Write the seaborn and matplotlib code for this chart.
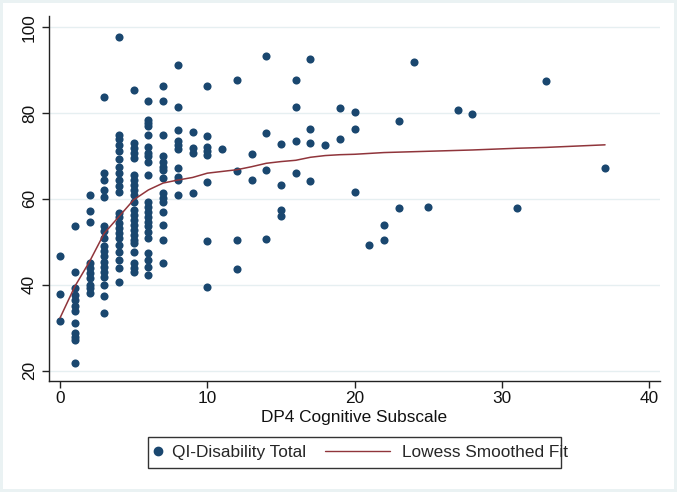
import numpy as np
import pandas as pd
import matplotlib
matplotlib.use("Agg")
import matplotlib.pyplot as plt
import seaborn as sns
from matplotlib.lines import Line2D
from matplotlib.patches import Rectangle

# DP4 cognitive subscale scores (x) and the QI-Disability totals observed at each score
dp4_levels = [0, 1, 2, 3, 4, 5, 6, 7, 8, 9, 10, 11, 12, 13, 14, 15, 16, 17,
              18, 19, 20, 21, 22, 23, 24, 25, 27, 28, 31, 33, 37]
qi_values = [
    [46.7, 37.8, 31.6],
    [53.8, 43.1, 39.2, 37.7, 36.5, 35.1, 33.8, 31.0, 28.7, 27.9, 27.1, 21.8],
    [60.9, 57.3, 54.7, 45.0, 43.8, 42.7, 41.5, 40.0, 39.2, 38.0],
    [83.8, 66.0, 64.4, 62.0, 60.5, 53.8, 52.6, 50.8, 49.0, 47.8, 46.6, 45.4,
     44.2, 43.0, 41.8, 40.0, 37.4, 33.5],
    [97.6, 75.0, 74.0, 72.6, 71.2, 69.2, 67.5, 66.0, 64.5, 63.0, 61.7, 56.7,
     55.7, 54.5, 53.3, 52.0, 50.8, 49.3, 47.7, 45.8, 43.8, 40.7],
    [85.4, 73.0, 71.8, 70.6, 69.5, 65.6, 64.4, 63.3, 62.1, 60.9, 59.4, 57.4,
     56.3, 55.1, 53.9, 52.8, 51.6, 50.4, 49.7, 47.7, 45.0, 43.8, 43.1],
    [82.7, 78.4, 77.6, 76.9, 74.9, 72.2, 70.6, 69.9, 68.7, 65.6, 59.4, 58.2,
     57.0, 55.9, 54.7, 53.6, 52.4, 50.8, 47.3, 45.8, 44.2, 42.3],
    [86.2, 82.7, 74.9, 69.9, 68.7, 67.5, 66.8, 64.8, 61.3, 60.2, 59.4, 57.0,
     53.9, 50.4, 45.0],
    [91.2, 81.4, 76.1, 73.4, 72.6, 71.6, 67.1, 65.2, 64.3, 60.9],
    [75.7, 71.8, 70.6, 61.3],
    [86.3, 74.7, 72.2, 71.2, 70.3, 64.0, 50.1, 39.6],
    [71.7],
    [87.7, 66.4, 50.4, 43.6],
    [70.5, 64.4],
    [93.2, 75.4, 66.8, 50.6],
    [72.8, 63.3, 57.4, 56.0],
    [87.7, 81.4, 73.4, 66.0],
    [92.5, 76.2, 73.1, 64.2],
    [72.5],
    [81.1, 73.9],
    [80.3, 76.2, 61.6],
    [49.3],
    [53.9, 50.4],
    [78.2, 57.9],
    [91.9],
    [58.2],
    [80.7],
    [79.8],
    [57.8],
    [87.5],
    [67.2],
]

# lowess fit, one value per score level
lowess_y = [32.3, 39.6, 45.4, 52.0, 55.9, 59.8, 62.1, 63.7, 64.4, 65.0, 66.0,
            66.4, 66.8, 67.5, 68.3, 68.7, 69.0, 69.7, 70.1, 70.3, 70.4, 70.6,
            70.8, 70.9, 71.0, 71.1, 71.3, 71.4, 71.8, 72.0, 72.6]

navy = "#1A476F"
maroon = "#90353B"
fs = 12.4

df = pd.DataFrame({
    "dp4": [x for x, ys in zip(dp4_levels, qi_values) for _ in ys],
    "qi": [y for ys in qi_values for y in ys],
})
fit = pd.DataFrame({"dp4": dp4_levels, "fit": lowess_y})

sns.set_theme(style="white")
plt.rcParams["font.family"] = ["Liberation Sans", "DejaVu Sans"]

W, H = 677, 492
fig = plt.figure(figsize=(W / 100, H / 100), dpi=100)
fig.patch.set_facecolor("#eaf2f3")
fig.add_artist(Rectangle((3 / W, 3 / H), (W - 6) / W, (H - 6) / H,
                         transform=fig.transFigure, facecolor="white",
                         edgecolor="none", zorder=-1))

ax = fig.add_axes([49.3 / W, 1 - 380.7 / H, (659.7 - 49.3) / W, (380.7 - 16) / H])
ax.set_facecolor("white")

sns.scatterplot(data=df, x="dp4", y="qi", color=navy, s=34, linewidth=0,
                legend=False, ax=ax, zorder=3)
sns.lineplot(data=fit, x="dp4", y="fit", color=maroon, lw=1.1,
             legend=False, ax=ax, zorder=4)

ax.set_xlim(-0.73, 40.71)
ax.set_ylim(17.67, 102.6)
ax.set_xticks([0, 10, 20, 30, 40])
ax.set_yticks([20, 40, 60, 80, 100])
ax.yaxis.grid(True, color="#e6eff1", lw=1)
ax.xaxis.grid(False)
ax.set_axisbelow(True)

for side in ["top", "right"]:
    ax.spines[side].set_visible(False)
for side in ["left", "bottom"]:
    ax.spines[side].set_color("#222222")
    ax.spines[side].set_linewidth(1)

ax.tick_params(axis="both", direction="out", length=5, width=1, color="#222222",
               labelsize=fs, labelcolor="#111111", left=True, bottom=True)
ax.tick_params(axis="x", pad=2.5)
ax.tick_params(axis="y", labelrotation=90, pad=4)
for lbl in ax.get_yticklabels():
    lbl.set_va("center")

ax.set_xlabel("DP4 Cognitive Subscale", fontsize=fs, labelpad=3, color="#111111")
ax.set_ylabel("")

# legend: two entries inside one square frame
yc = 1 - 452.5 / H
dot = Line2D([], [], marker="o", ls="none", color=navy, markersize=6)
line = Line2D([], [], color=maroon, lw=1)
leg1 = fig.legend([dot], ["QI-Disability Total"], loc="center left",
                  bbox_to_anchor=(151.3 / W, yc), frameon=False, fontsize=fs,
                  handlelength=0.8, handletextpad=0.42, borderpad=0,
                  borderaxespad=0)
leg2 = fig.legend([line], ["Lowess Smoothed Fit"], loc="center left",
                  bbox_to_anchor=(325 / W, yc), frameon=False, fontsize=fs,
                  handlelength=3.8, handletextpad=0.66, borderpad=0,
                  borderaxespad=0)
fig.add_artist(Rectangle((147.7 / W, 1 - 468.3 / H), 413.3 / W, 31.6 / H,
                         transform=fig.transFigure, facecolor="none",
                         edgecolor="#333333", lw=1))

fig.savefig("out.png", dpi=100, facecolor=fig.get_facecolor())
